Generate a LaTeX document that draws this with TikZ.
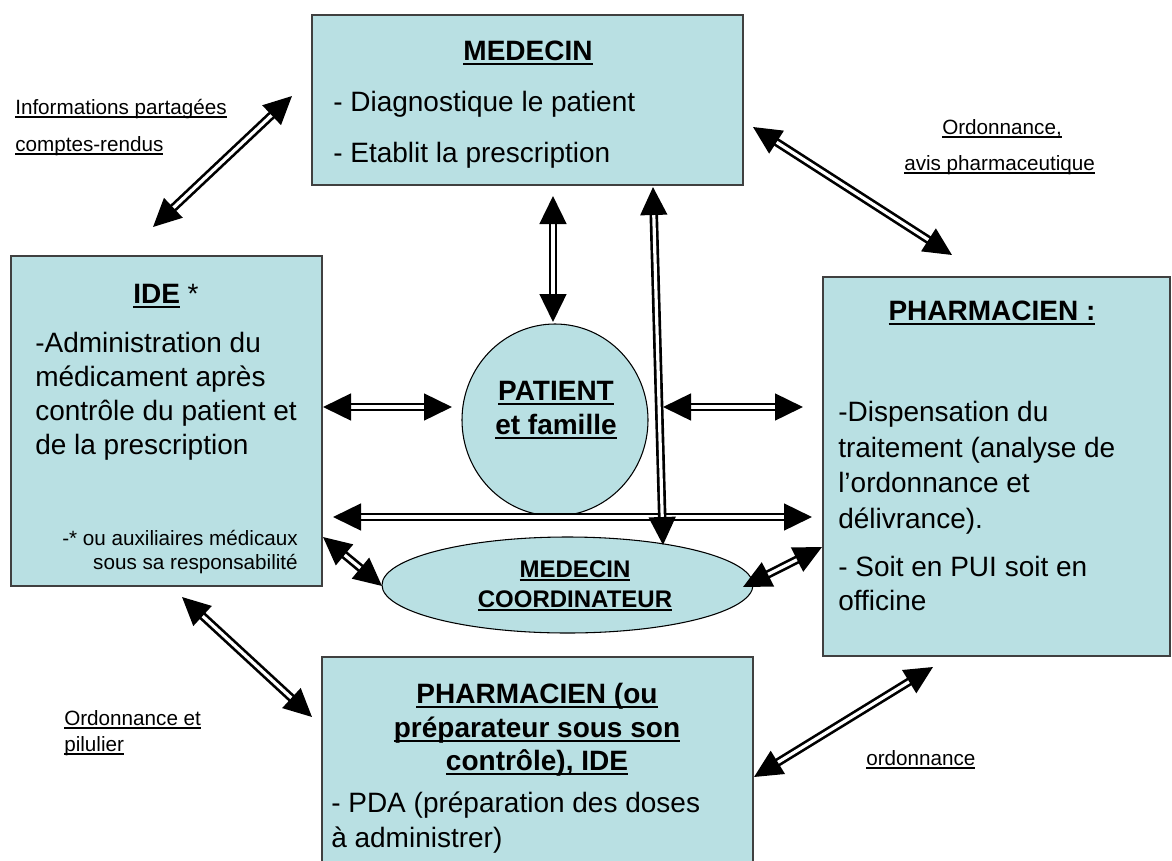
\documentclass[tikz,border=0pt]{standalone}
\usepackage{fontspec}
\setmainfont{Liberation Sans}
\usetikzlibrary{arrows.meta,shapes.geometric}
\definecolor{boxblue}{RGB}{185,224,227}
\newcommand{\ulx}[1]{\setbox0\hbox{#1}\rlap{\rule[-0.17em]{\wd0}{0.08em}}\box0}
\begin{document}
\begin{tikzpicture}[x=0.75pt,y=-0.75pt,
  box/.style={draw=black!75, line width=1pt, fill=boxblue, inner sep=0pt},
  oval/.style={ellipse, draw=black, line width=0.8pt, fill=boxblue, inner sep=0pt},
  dbl/.style={double=white, double distance=2.4pt, line width=2pt,
    {Triangle[length=21pt,width=20pt]}-{Triangle[length=21pt,width=20pt]}},
  body/.style={font=\fontsize{21}{25}\selectfont, inner sep=0pt, anchor=base west},
  head/.style={font=\fontsize{21}{25}\selectfont\bfseries, inner sep=0pt, anchor=base},
  small/.style={font=\fontsize{15.5}{18}\selectfont, inner sep=0pt},
  lab/.style={font=\fontsize{15.5}{18}\selectfont, inner sep=0pt, anchor=base west}]
\useasboundingbox (0,0) rectangle (1172,861);

% boxes
\node[box, minimum width={431*0.75pt}, minimum height={170*0.75pt}] (med) at (527.5,100) {};
\node[box, minimum width={311*0.75pt}, minimum height={330*0.75pt}] (ide) at (166.5,421) {};
\node[box, minimum width={347*0.75pt}, minimum height={379*0.75pt}] (pha) at (996.5,466.5) {};
\node[box, minimum width={431*0.75pt}, minimum height={213*0.75pt}] (pda) at (537.5,763.5) {};
\node[oval, minimum width={186*0.75pt}, minimum height={192*0.75pt}] (pat) at (555,420) {};
\node[oval, minimum width={371*0.75pt}, minimum height={96*0.75pt}] (coord) at (567.5,585) {};

% MEDECIN text
\node[head] (medh) at (528,60) {\ulx{MEDECIN}};
\node[body] (med1) at (333,111) {- Diagnostique le patient};
\node[body] (med2) at (333,162) {- Etablit la prescription};

% IDE text
\node[head, anchor=base west] (ideh) at (133,303) {\ulx{IDE}\mdseries{} *};
\node[body] (ide1) at (35,352) {-Administration du};
\node[body] (ide2) at (35,386) {médicament après};
\node[body] (ide3) at (35,420) {contrôle du patient et};
\node[body] (ide4) at (35,454) {de la prescription};
\node[small, anchor=base east] (ide5) at (298,545) {-* ou auxiliaires médicaux};
\node[small, anchor=base east] (ide6) at (298,569) {sous sa responsabilité};

% PHARMACIEN text
\node[head] (phah) at (992,320) {\ulx{PHARMACIEN :}};
\node[body] (pha1) at (838,421) {-Dispensation du};
\node[body] (pha2) at (838,457) {traitement (analyse de};
\node[body] (pha3) at (838,492) {l’ordonnance et};
\node[body] (pha4) at (838,528) {délivrance).};
\node[body] (pha5) at (838,576) {- Soit en PUI soit en};
\node[body] (pha6) at (838,610) {officine};

% bottom box text
\node[head] (pdah1) at (537,703) {\ulx{PHARMACIEN (ou}};
\node[head] (pdah2) at (537,737) {\ulx{préparateur sous son}};
\node[head] (pdah3) at (537,770) {\ulx{contrôle), IDE}};
\node[body] (pda1) at (331,812) {- PDA (préparation des doses};
\node[body] (pda2) at (331,847) {à administrer)};

% patient text
\node[head] (path1) at (556,400) {\ulx{PATIENT}};
\node[head] (path2) at (556,434) {\ulx{et famille}};

% coordinateur text
\node[head, font=\fontsize{18}{21}\selectfont\bfseries] (coh1) at (575,577) {\ulx{MEDECIN}};
\node[head, font=\fontsize{18}{21}\selectfont\bfseries] (coh2) at (575,607) {\ulx{COORDINATEUR}};

% labels
\node[lab] (l1) at (15,114) {\ulx{Informations partagées}};
\node[lab] (l2) at (15,151) {\ulx{comptes-rendus}};
\node[lab] (l3) at (942,134) {\ulx{Ordonnance,}};
\node[lab] (l4) at (904,170) {\ulx{avis pharmaceutique}};
\node[lab] (l5) at (64,725) {\ulx{Ordonnance et}};
\node[lab] (l6) at (64,751) {\ulx{pilulier}};
\node[lab] (l7) at (866,765) {\ulx{ordonnance}};

% arrow end points
\coordinate (a1s) at (292,96);   \coordinate (a1e) at (153,227);
\coordinate (a2s) at (753,127);  \coordinate (a2e) at (952,255);
\coordinate (a3s) at (553,196);  \coordinate (a3e) at (553,322);
\coordinate (a4s) at (653,187);  \coordinate (a4e) at (663,545);
\coordinate (a5s) at (323,407);  \coordinate (a5e) at (452,407);
\coordinate (a6s) at (663,407);  \coordinate (a6e) at (803,407);
\coordinate (a7s) at (333,517);  \coordinate (a7e) at (812,517);
\coordinate (a8s) at (323,537);  \coordinate (a8e) at (382,586);
\coordinate (a9s) at (743,587);  \coordinate (a9e) at (822,547);
\coordinate (a10s) at (182,597); \coordinate (a10e) at (312,717);
\coordinate (a11s) at (754,777); \coordinate (a11e) at (933,667);

\draw[dbl] (a1s) -- (a1e);
\draw[dbl] (a2s) -- (a2e);
\draw[dbl] (a3s) -- (a3e);
\draw[dbl] (a5s) -- (a5e);
\draw[dbl] (a6s) -- (a6e);
\draw[dbl] (a7s) -- (a7e);
\draw[dbl] (a4s) -- (a4e);
\draw[dbl] (a8s) -- (a8e);
\draw[dbl] (a9s) -- (a9e);
\draw[dbl] (a10s) -- (a10e);
\draw[dbl] (a11s) -- (a11e);
\end{tikzpicture}
\end{document}
